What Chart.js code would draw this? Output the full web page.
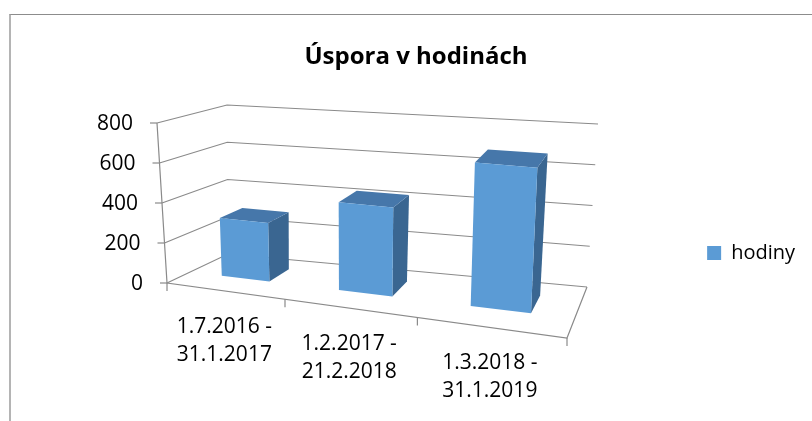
<!DOCTYPE html>
<html>
<head>
<meta charset="utf-8">
<script src="https://cdn.jsdelivr.net/npm/chart.js@4.4.1/dist/chart.umd.min.js"></script>
<style>
  html, body { margin: 0; padding: 0; background: #fff; }
  #frame {
    position: absolute; left: 9px; top: 14px; width: 803px; height: 407px;
    border-top: 1px solid #8c8c8c; border-left: 2px solid #b4b4b4; box-sizing: border-box;
  }
  #wrap { position: absolute; left: 20px; top: 15px; width: 792px; height: 406px; }
</style>
</head>
<body>
<div id="frame"></div>
<div id="wrap"><canvas id="usporaChart"></canvas></div>
<script>
const CATEGORIES = [["1.7.2016 -", "31.1.2017"], ["1.2.2017 -", "21.2.2018"], ["1.3.2018 -", "31.1.2019"]];
const HODINY = [295, 435, 690];
const Y_TICKS = [0, 200, 400, 600, 800];

const FONT = "'Open Sans', sans-serif";
const LINE_COLOR = "#8a8a8a";
const FRONT_COLOR = "#5b9bd5";
const TOP_COLOR = "#4677aa";
const SIDE_COLOR = "#3a6691";
const K_PERSP = 1.195;          // foreshortening along the category axis
const BAR_DEPTH = [0.38, 0.75]; // bars sit in the middle of the floor

// corners of the 3d box, relative to the chart area (front plane at left = value axis)
function frameCorners(area) {
  const L = area.left, T = area.top, B = area.bottom;
  return {
    fl0: [L + 10, B], fl1: [L, T],
    bl0: [L + 71, B - 29], bl1: [L + 70, T - 18],
    fr0: [L + 410, B + 55], fr1: [L + 418, T + 40],
    br0: [L + 430, B + 4], br1: [L + 441, T + 1]
  };
}

function lerp(a, b, t) {
  return [a[0] + (b[0] - a[0]) * t, a[1] + (b[1] - a[1]) * t];
}

function project(c, u, v, w) {
  const t = u / (u + K_PERSP * (1 - u));
  const bottom = lerp(lerp(c.fl0, c.bl0, w), lerp(c.fr0, c.br0, w), t);
  const top = lerp(lerp(c.fl1, c.bl1, w), lerp(c.fr1, c.br1, w), t);
  return lerp(bottom, top, v);
}

function polyline(ctx, pts) {
  ctx.beginPath();
  ctx.moveTo(pts[0][0], pts[0][1]);
  pts.slice(1).forEach((p) => ctx.lineTo(p[0], p[1]));
  ctx.stroke();
}

function face(ctx, pts, color) {
  ctx.beginPath();
  ctx.moveTo(pts[0][0], pts[0][1]);
  pts.slice(1).forEach((p) => ctx.lineTo(p[0], p[1]));
  ctx.closePath();
  ctx.fillStyle = color;
  ctx.fill();
}

const perspective3d = {
  id: "perspective3d",
  beforeDatasetsDraw(chart) {
    const ctx = chart.ctx;
    const area = chart.chartArea;
    const xScale = chart.scales.x;
    const yScale = chart.scales.y;
    const c = frameCorners(area);
    const P = (u, v, w) => project(c, u, v, w);
    const toU = (px) => (px - area.left) / area.width;
    const toV = (py) => (yScale.bottom - py) / (yScale.bottom - yScale.top);
    const n = chart.data.labels.length;

    ctx.save();
    ctx.strokeStyle = LINE_COLOR;
    ctx.lineWidth = 1.2;

    // gridlines on the side and back walls, tick marks and labels of the value axis
    ctx.font = "21px " + FONT;
    ctx.fillStyle = "#000";
    ctx.textAlign = "right";
    ctx.textBaseline = "middle";
    yScale.ticks.forEach((tick) => {
      const v = toV(yScale.getPixelForValue(tick.value));
      polyline(ctx, [P(0, v, 0), P(0, v, 1), P(1, v, 1)]);
      const a = P(0, v, 0);
      polyline(ctx, [[a[0] - 7, a[1]], a]);
      ctx.fillText(String(tick.value), a[0] - 24, a[1] + 1);
    });

    // value axis and floor edges
    polyline(ctx, [P(0, 1, 0), P(0, 0, 0), P(1, 0, 0), P(1, 0, 1)]);

    // category ticks
    for (let i = 0; i <= n; i++) {
      const u = toU(xScale.getPixelForValue(i - 0.5));
      const a = P(u, 0, 0);
      polyline(ctx, [a, [a[0], a[1] + 8]]);
    }

    // category labels
    ctx.textAlign = "center";
    chart.data.labels.forEach((label, i) => {
      const a = P(toU(xScale.getPixelForValue(i)), 0, 0);
      label.forEach((line, j) => ctx.fillText(line, a[0], a[1] + 36 + j * 28));
    });

    // bars as boxes
    const [w0, w1] = BAR_DEPTH;
    chart.getDatasetMeta(0).data.forEach((bar) => {
      const { x, y, width } = bar.getProps(["x", "y", "width"], true);
      const u0 = toU(x - width / 2);
      const u1 = toU(x + width / 2);
      const v = toV(y);
      face(ctx, [P(u1, 0, w0), P(u1, 0, w1), P(u1, v, w1), P(u1, v, w0)], SIDE_COLOR);
      face(ctx, [P(u0, v, w0), P(u1, v, w0), P(u1, v, w1), P(u0, v, w1)], TOP_COLOR);
      face(ctx, [P(u0, 0, w0), P(u1, 0, w0), P(u1, v, w0), P(u0, v, w0)], FRONT_COLOR);
    });

    ctx.restore();
    return false;
  }
};

new Chart(document.getElementById("usporaChart"), {
  type: "bar",
  data: {
    labels: CATEGORIES,
    datasets: [{
      label: "hodiny",
      data: HODINY,
      backgroundColor: FRONT_COLOR,
      borderWidth: 0,
      barPercentage: 0.42,
      categoryPercentage: 1
    }]
  },
  options: {
    responsive: true,
    maintainAspectRatio: false,
    animation: false,
    layout: { padding: { left: 7, right: 7, top: 0, bottom: 138 } },
    plugins: {
      title: {
        display: true,
        text: "Úspora v hodinách",
        color: "#000",
        font: { family: FONT, size: 24, weight: "bold" },
        padding: { top: 27.6, bottom: 51.6 }
      },
      legend: {
        position: "right",
        align: "end",
        labels: {
          boxWidth: 14,
          boxHeight: 14,
          padding: 20,
          color: "#000",
          font: { family: FONT, size: 20 }
        }
      },
      tooltip: { enabled: false }
    },
    scales: {
      x: { display: false },
      y: {
        min: Y_TICKS[0],
        max: Y_TICKS[Y_TICKS.length - 1],
        ticks: { display: false, stepSize: Y_TICKS[1] - Y_TICKS[0] },
        grid: { display: false },
        border: { display: false },
        afterFit: (scale) => { scale.width = 130; }
      }
    }
  },
  plugins: [perspective3d]
});
</script>
</body>
</html>
